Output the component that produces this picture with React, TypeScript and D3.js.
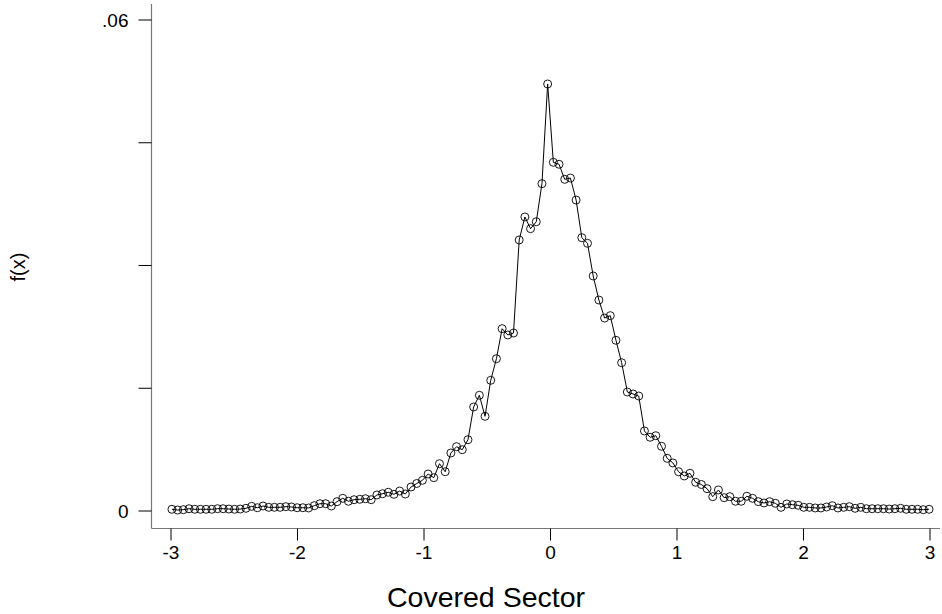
import React from "react";
import * as d3 from "d3";

// density estimates, one per grid point (step .045 from -2.9925)
const densityValues = [
  0.00021, 0.00012, 0.00016, 0.00028, 0.00021, 0.00021, 0.00021, 0.00021, 0.00028, 0.00028,
  0.00024, 0.00021, 0.00024, 0.00033, 0.00057, 0.0004, 0.00061, 0.00045, 0.00045, 0.00045,
  0.00053, 0.00049, 0.0004, 0.0004, 0.00037, 0.00065, 0.00089, 0.00089, 0.00061, 0.00114,
  0.00155, 0.00119, 0.00138, 0.00143, 0.0015, 0.00138, 0.00196, 0.00211, 0.00229, 0.00204,
  0.00244, 0.00208, 0.00293, 0.00336, 0.00375, 0.00452, 0.00407, 0.00578, 0.0048, 0.00709,
  0.00786, 0.00749, 0.00871, 0.01271, 0.01414, 0.01157, 0.01597, 0.01861, 0.02228, 0.02151,
  0.02175, 0.03312, 0.03593, 0.0345, 0.03535, 0.04, 0.05218, 0.04261, 0.04237, 0.04053,
  0.04069, 0.038, 0.0334, 0.03271, 0.02872, 0.02578, 0.02358, 0.02387, 0.02086, 0.01812,
  0.01454, 0.0143, 0.01405, 0.00978, 0.00901, 0.0092, 0.00791, 0.00644, 0.00587, 0.0048,
  0.00428, 0.00461, 0.00351, 0.00324, 0.00273, 0.00175, 0.00257, 0.00163, 0.00175, 0.00119,
  0.00119, 0.0018, 0.00155, 0.00114, 0.00098, 0.00114, 0.00094, 0.00045, 0.00086, 0.00077,
  0.0007, 0.00045, 0.00045, 0.00037, 0.00037, 0.00049, 0.00065, 0.00037, 0.00045, 0.00053,
  0.00033, 0.00045, 0.00028, 0.00028, 0.00028, 0.00028, 0.00024, 0.00028, 0.00033, 0.00021,
  0.00021, 0.00021, 0.00016, 0.00021,
];
const gridStart = -2.9925;
const gridStep = 0.045;

const xTicks = [-3, -2, -1, 0, 1, 2, 3];
const xTickLabels = ["-3", "-2", "-1", "0", "1", "2", "3"];
const yTicks = [0, 0.015, 0.03, 0.045, 0.06];
const yTickLabels = ["0", "", "", "", ".06"];

const xTitle = "Covered Sector";
const yTitle = "f(x)";

const W = 942;
const H = 614;
const FONT = "Liberation Sans, Arial, Helvetica, sans-serif";

const App = () => {
  const svgRef = React.useRef<SVGSVGElement>(null);

  React.useEffect(() => {
    const svg = d3.select(svgRef.current);
    svg.selectAll("*").remove();

    const data = densityValues.map((v, i) => ({ x: gridStart + i * gridStep, y: v }));

    const x = d3.scaleLinear().domain([-3, 3]).range([171, 930]);
    const y = d3.scaleLinear().domain([0, 0.06]).range([511, 20]);

    const axisLeft = 151.5;
    const axisBottom = 528.5;

    // axis lines (grey, like the reference)
    svg
      .append("line")
      .attr("x1", axisLeft)
      .attr("x2", axisLeft)
      .attr("y1", 4)
      .attr("y2", axisBottom)
      .attr("stroke", "#777")
      .attr("stroke-width", 1.2);
    svg
      .append("line")
      .attr("x1", axisLeft)
      .attr("x2", 940)
      .attr("y1", axisBottom)
      .attr("y2", axisBottom)
      .attr("stroke", "#777")
      .attr("stroke-width", 1.2);

    // y ticks
    const yg = svg.append("g");
    yg.selectAll("line")
      .data(yTicks)
      .join("line")
      .attr("x1", axisLeft - 13)
      .attr("x2", axisLeft)
      .attr("y1", (d) => y(d))
      .attr("y2", (d) => y(d))
      .attr("stroke", "#000");
    yg.selectAll("text")
      .data(yTicks)
      .join("text")
      .attr("x", 128.5)
      .attr("y", (d) => y(d))
      .attr("dy", "0.36em")
      .attr("text-anchor", "end")
      .attr("font-family", FONT)
      .attr("font-size", 19)
      .text((_, i) => yTickLabels[i]);

    // x ticks
    const xg = svg.append("g");
    xg.selectAll("line")
      .data(xTicks)
      .join("line")
      .attr("x1", (d) => x(d))
      .attr("x2", (d) => x(d))
      .attr("y1", axisBottom)
      .attr("y2", axisBottom + 12)
      .attr("stroke", "#000");
    xg.selectAll("text")
      .data(xTicks)
      .join("text")
      .attr("x", (d) => x(d))
      .attr("y", 559)
      .attr("text-anchor", "middle")
      .attr("font-family", FONT)
      .attr("font-size", 19)
      .text((_, i) => xTickLabels[i]);

    // titles
    svg
      .append("text")
      .attr("x", 486)
      .attr("y", 607)
      .attr("text-anchor", "middle")
      .attr("font-family", FONT)
      .attr("font-size", 28.5)
      .text(xTitle);
    svg
      .append("text")
      .attr("transform", `translate(25,267) rotate(-90)`)
      .attr("text-anchor", "middle")
      .attr("font-family", FONT)
      .attr("font-size", 20)
      .text(yTitle);

    // connecting line
    const line = d3
      .line<{ x: number; y: number }>()
      .x((d) => x(d.x))
      .y((d) => y(d.y));
    svg
      .append("path")
      .datum(data)
      .attr("d", line)
      .attr("fill", "none")
      .attr("stroke", "#000")
      .attr("stroke-width", 1);

    // hollow markers
    svg
      .append("g")
      .selectAll("circle")
      .data(data)
      .join("circle")
      .attr("cx", (d) => x(d.x))
      .attr("cy", (d) => y(d.y))
      .attr("r", 4)
      .attr("fill", "none")
      .attr("stroke", "#000")
      .attr("stroke-width", 0.9);
  }, []);

  return (
    <div style={{ position: "fixed", left: 0, top: 0, width: W, height: H, background: "#fff" }}>
      <svg ref={svgRef} width={W} height={H} style={{ display: "block" }} />
    </div>
  );
};

export default App;
